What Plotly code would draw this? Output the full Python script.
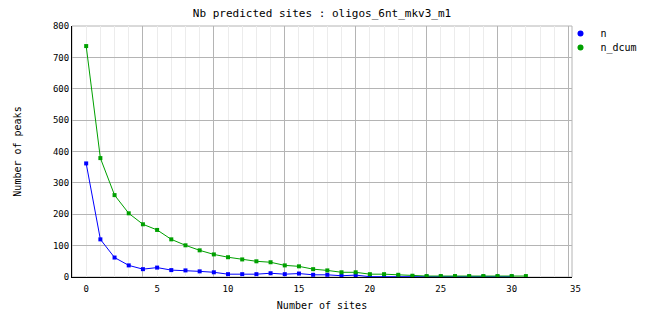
import plotly.graph_objects as go

x_n = list(range(0, 31))
n = [362, 120, 62, 37, 25, 30, 22, 21, 18, 15, 9, 9, 9, 12, 9, 11, 7, 7, 4, 6,
     1, 1, 1, 1, 1, 1, 1, 1, 1, 1, 1]
x_dcum = list(range(0, 32))
n_dcum = [736, 379, 261, 203, 168, 150, 120, 101, 85, 72, 63, 56, 50, 47, 37, 34,
          25, 21, 15, 15, 9, 9, 7, 4, 3, 3, 3, 3, 3, 3, 3, 3]
x_ticks = [0, 5, 10, 15, 20, 25, 30]
x_last_tick = 35
y_ticks = [0, 100, 200, 300, 400, 500, 600, 700, 800]

BLUE = "#0000ff"
GREEN = "#00a000"
FONT = "DejaVu Sans Mono"

fig = go.Figure()
fig.add_trace(go.Scatter(x=x_n, y=n, mode="lines+markers", name="n",
                         line=dict(color=BLUE, width=1),
                         marker=dict(color=BLUE, symbol="square", size=4),
                         showlegend=False))
fig.add_trace(go.Scatter(x=x_dcum, y=n_dcum, mode="lines+markers", name="n_dcum",
                         line=dict(color=GREEN, width=1),
                         marker=dict(color=GREEN, symbol="square", size=4),
                         showlegend=False))
# legend entries (markers only), each in its own legend box
fig.add_trace(go.Scatter(x=[None], y=[None], mode="markers", name="n",
                         marker=dict(color=BLUE, symbol="circle", size=6),
                         legend="legend"))
fig.add_trace(go.Scatter(x=[None], y=[None], mode="markers", name="n_dcum",
                         marker=dict(color=GREEN, symbol="circle", size=6),
                         legend="legend2"))
# invisible trace to activate grid axis
fig.add_trace(go.Scatter(x=[None], y=[None], xaxis="x2", showlegend=False,
                         hoverinfo="skip"))

xr = [-1, 34.25]
legfont = dict(family=FONT, size=10, color="black")
fig.update_layout(
    width=662, height=328,
    margin=dict(l=72, r=90, t=26, b=51, autoexpand=False),
    paper_bgcolor="white", plot_bgcolor="white",
    title=dict(text="Nb predicted sites : oligos_6nt_mkv3_m1",
               font=dict(family=FONT, size=11, color="black"),
               x=322 / 662, xanchor="center", y=1 - 13 / 328, yanchor="middle"),
    xaxis=dict(range=xr, tickvals=x_ticks, showgrid=False, zeroline=False,
               showline=True, linecolor="black", linewidth=1,
               ticks="", ticklabelstandoff=3,
               tickfont=dict(family=FONT, size=9, color="black"),
               title=dict(text="Number of sites", standoff=9,
                          font=dict(family=FONT, size=10, color="black")),
               layer="above traces"),
    xaxis2=dict(range=xr, overlaying="x", tick0=4, dtick=5, showgrid=True,
                gridcolor="#b4b4b4", gridwidth=1, showticklabels=False,
                zeroline=False, ticks="",
                minor=dict(dtick=1, tick0=0, showgrid=True, gridcolor="#ececec",
                           gridwidth=1)),
    yaxis=dict(range=[0, 800], tickvals=y_ticks, showgrid=True,
               gridcolor="#b4b4b4", gridwidth=1, zeroline=False,
               showline=True, linecolor="black", linewidth=1, ticks="",
               tickfont=dict(family=FONT, size=9, color="black"),
               title=dict(text="Number of peaks", standoff=29,
                          font=dict(family=FONT, size=10, color="black"))),
    legend=dict(x=0.977, xanchor="left", y=1.028, yanchor="top",
                font=legfont, bgcolor="rgba(0,0,0,0)", itemwidth=30),
    legend2=dict(x=0.977, xanchor="left", y=0.972, yanchor="top",
                 font=legfont, bgcolor="rgba(0,0,0,0)", itemwidth=30),
    shapes=[dict(type="rect", xref="paper", yref="paper", x0=0, x1=1, y0=0, y1=1,
                 line=dict(color="#b4b4b4", width=1), layer="below")],
    annotations=[dict(text=str(x_last_tick),
                      x=(x_last_tick - xr[0]) / (xr[1] - xr[0]), y=0,
                      xref="paper", yref="paper", yanchor="top",
                      yshift=-5, showarrow=False,
                      font=dict(family=FONT, size=9, color="black"))],
)
fig.write_html("out.html")
